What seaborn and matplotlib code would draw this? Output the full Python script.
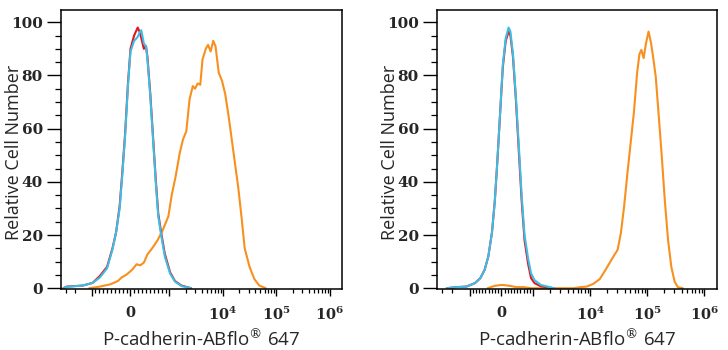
import numpy as np
import matplotlib
matplotlib.use("Agg")
import matplotlib.pyplot as plt
import seaborn as sns

# left panel: fluorescence intensity vs relative cell number
left_red_x = [-3370, -2930, -1460, -972, -787, -602, -463, -370, -278, -213,
              -139, -65, 0, 93, 185, 231, 278, 343, 398, 435,
              509, 583, 648, 713, 787, 880, 1028, 1268, 1676, 2547]
left_red_y = [0, 0.6, 1, 2, 4.6, 8, 15, 21, 31, 43,
              58, 77, 90, 95, 98, 96.5, 94, 90, 91, 87,
              73, 56, 41, 28, 21, 13, 6, 2.7, 1, 0]
left_blue_y = [0, 0.5, 1, 2, 4, 7.5, 14.5, 21, 30, 42,
               57, 76, 89, 93, 94.5, 96, 97, 92, 91, 86,
               72, 55, 40, 27, 20, 12, 5.5, 2.5, 0.8, 0]
left_orange_x = [-1102, -787, -509, -324, -231, -93, 46, 157, 250, 343,
                 435, 556, 694, 833, 972, 1102, 1304, 1563, 1797, 2066,
                 2375, 2731, 3010, 3370, 3766, 4150, 4770, 5260, 5885, 6580,
                 7255, 8340, 9590, 11020, 12680, 14580, 16750, 19270, 22150, 25470,
                 31400, 38700, 47700, 63100]
left_orange_y = [0, 0.6, 1.5, 2.7, 4, 5.2, 7, 9, 8.6, 9.6,
                 12.7, 15, 18, 22, 27, 35, 42, 51, 56, 59,
                 71, 76, 75, 77, 76.5, 86, 90, 91.5, 89, 93,
                 91, 81, 78, 73, 65, 56, 47, 38, 27, 15,
                 8, 3.4, 1, 0]

# right panel
right_red_x = [-2512, -1693, -1140, -830, -659, -523, -409, -295, -205, -125,
               -34, 45, 136, 227, 284, 364, 455, 545, 636, 727,
               841, 932, 1054, 1371, 2320]
right_red_y = [0, 0.4, 0.6, 1.9, 3.8, 7, 12, 21, 33, 48,
               67, 83, 93, 96.5, 95, 87, 71, 52, 33, 18,
               9, 3.8, 1.9, 0.7, 0]
right_blue_y = [0, 0.4, 0.6, 1.9, 3.8, 7, 12, 21, 33, 48,
                67, 84, 94, 98, 96.5, 88, 72, 54, 35, 20,
                11, 5.6, 3, 1.2, 0]
right_orange_x = [-432, -205, 23, 250, 477, 705, 932, 5114, 6650, 8650,
                  11250, 14650, 17830, 21740, 26490, 30200, 34440, 39280, 44800, 51100,
                  58300, 66500, 72900, 78900, 86500, 94900, 105400, 117100, 128500, 140900,
                  156400, 178300, 203500, 232100, 264700, 302000, 344400, 419800]
right_orange_y = [0, 0.9, 1.25, 0.9, 0.4, 0.4, 0, 0, 0.4, 0.6,
                  1.6, 3.4, 6.3, 9.4, 12.5, 14.4, 20.7, 30.7, 43, 54.5,
                  66, 81, 88, 89.6, 86.5, 92, 96.5, 92, 86, 79.6,
                  67, 50.8, 33, 18, 8, 2.5, 0.4, 0]

tick_labels = ["0", r"$\mathbf{10}^{\mathbf{4}}$", r"$\mathbf{10}^{\mathbf{5}}$", r"$\mathbf{10}^{\mathbf{6}}$"]

RED = "#e3151f"
BLUE = "#3cbde6"
ORANGE = "#f7901e"

sns.set_style("ticks")
plt.rcParams["font.family"] = ["Open Sans", "DejaVu Sans"]
plt.rcParams["mathtext.fontset"] = "dejavuserif"

fig = plt.figure(figsize=(7.28, 3.5), dpi=100)
ax1 = fig.add_axes([61 / 728, 61 / 350, 281 / 728, 279 / 350])
ax2 = fig.add_axes([437 / 728, 61 / 350, 280 / 728, 279 / 350])

panels = [
    (ax1, left_red_x, left_red_y, left_blue_y, left_orange_x, left_orange_y, 0.655, -0.137),
    (ax2, right_red_x, right_red_y, right_blue_y, right_orange_x, right_orange_y, 0.503, -0.137),
]

minor_lin = [v for v in range(-900, 1000, 100) if v != 0]
minor_log = [m * 10 ** e for e in (3, 4, 5) for m in range(2, 10)]
minor_neg = [-2000, -3000]

for ax, rx, ry, by, ox, oy, lscale, ylab_x in panels:
    sns.lineplot(x=ox, y=oy, ax=ax, color=ORANGE, linewidth=1.5, sort=False, estimator=None)
    sns.lineplot(x=rx, y=ry, ax=ax, color=RED, linewidth=1.5, sort=False, estimator=None)
    sns.lineplot(x=rx, y=by, ax=ax, color=BLUE, linewidth=1.5, sort=False, estimator=None)

    ax.set_xscale("symlog", linthresh=1000, linscale=lscale)
    ax.set_xlim(-3720, 1.675e6)
    ax.set_ylim(-0.3, 104.6)

    ax.set_xticks([-1000, 0, 1000, 1e4, 1e5, 1e6])
    ax.set_xticklabels(["", "0", ""] + tick_labels[1:])
    ax.set_xticks(minor_lin + minor_log + minor_neg, minor=True)
    ax.set_yticks([0, 20, 40, 60, 80, 100])
    ax.set_yticks(np.arange(5, 105, 5), minor=True)
    ax.set_yticklabels(["0", "20", "40", "60", "80", "100"])

    for lab in ax.get_xticklabels():
        lab.set_fontfamily("DejaVu Serif")
        lab.set_fontweight("bold")
        lab.set_fontsize(10.5)
    for lab in ax.get_yticklabels():
        lab.set_fontfamily("DejaVu Serif")
        lab.set_fontweight("bold")
        lab.set_fontsize(11)

    ax.tick_params(axis="x", which="major", direction="out", length=5, width=1, color="black", pad=7)
    ax.tick_params(axis="x", which="minor", direction="out", length=3, width=0.9, color="black")
    ax.tick_params(axis="y", which="major", direction="out", length=10, width=1, color="black", pad=3)
    ax.tick_params(axis="y", which="minor", direction="out", length=4, width=0.9, color="black")

    for sp in ax.spines.values():
        sp.set_visible(True)
        sp.set_color("black")
        sp.set_linewidth(1.1)

    ax.set_xlabel("P-cadherin-ABflo$^{®}$ 647", fontsize=13.5, labelpad=4)
    ax.set_ylabel("Relative Cell Number", fontsize=13)
    ax.yaxis.set_label_coords(ylab_x, 0.49)

fig.savefig("out.png", dpi=100)
